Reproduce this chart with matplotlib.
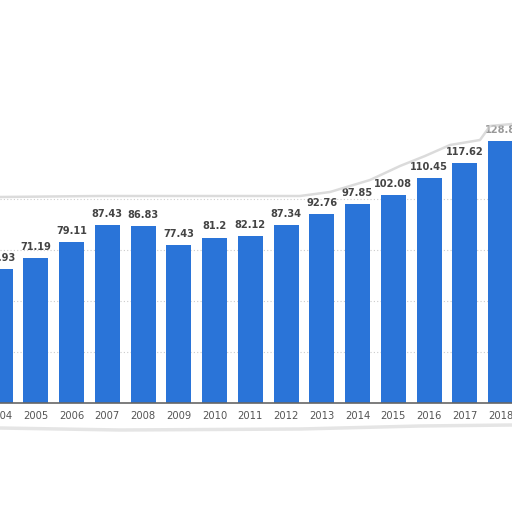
import matplotlib
matplotlib.use("Agg")
import matplotlib.pyplot as plt
from matplotlib.lines import Line2D

years = [2004, 2005, 2006, 2007, 2008, 2009, 2010, 2011, 2012, 2013, 2014, 2015, 2016, 2017, 2018]
values = [65.93, 71.19, 79.11, 87.43, 86.83, 77.43, 81.2, 82.12, 87.34, 92.76, 97.85, 102.08, 110.45, 117.62, 128.8]
labels = ["65.93", "71.19", "79.11", "87.43", "86.83", "77.43", "81.2", "82.12", "87.34", "92.76",
          "97.85", "102.08", "110.45", "117.62", "128.8"]

W = 512
fig = plt.figure(figsize=(5.12, 5.12), dpi=100)
fig.patch.set_facecolor("white")

# decorative faint cut-out outline
xs = [0, 100, 200, 300, 330, 370, 400, 425, 450, 480, 490, 512]
ys = [197, 196, 196, 196, 192, 180, 166, 156, 145, 140, 126, 124]
fig.add_artist(Line2D([x / W for x in xs], [1 - y / W for y in ys], color="#cccccc", lw=1.8, alpha=0.7))
xs2 = [0, 120, 300, 420, 512]
ys2 = [428, 430, 429, 426, 425]
fig.add_artist(Line2D([x / W for x in xs2], [1 - y / W for y in ys2], color="#d4d4d4", lw=2.5, alpha=0.6))

ax = fig.add_axes([0, 109 / W, 1, 303 / W])
ax.set_facecolor("none")
ax.bar(years, values, width=0.7, color="#2a74d8", zorder=3)
ax.set_xlim(2004 + 3.5 / 36, 2018 + 11.5 / 36)
ax.set_ylim(0, 303 / 2.037)

for x, v, t in zip(years, values, labels):
    ax.text(x, v + 3.0, t, ha="center", va="bottom", fontsize=7.1, fontweight="bold",
            color="#444444" if x != 2018 else "#999999", zorder=4)

ax.set_yticks([25, 50, 75, 100])
ax.yaxis.grid(True, linestyle=(0, (1, 2)), color="#cccccc", lw=0.8, zorder=0)
ax.tick_params(axis="y", left=False, labelleft=False)
ax.set_xticks(years)
ax.set_xticklabels([str(y) for y in years], fontsize=7.2, color="#555555")
ax.tick_params(axis="x", length=0, pad=6)
for s in ["top", "right", "left"]:
    ax.spines[s].set_visible(False)
ax.spines["bottom"].set_color("#666666")
ax.spines["bottom"].set_linewidth(1.2)
ax.spines["bottom"].set_zorder(5)

fig.savefig("out.png", dpi=100)
